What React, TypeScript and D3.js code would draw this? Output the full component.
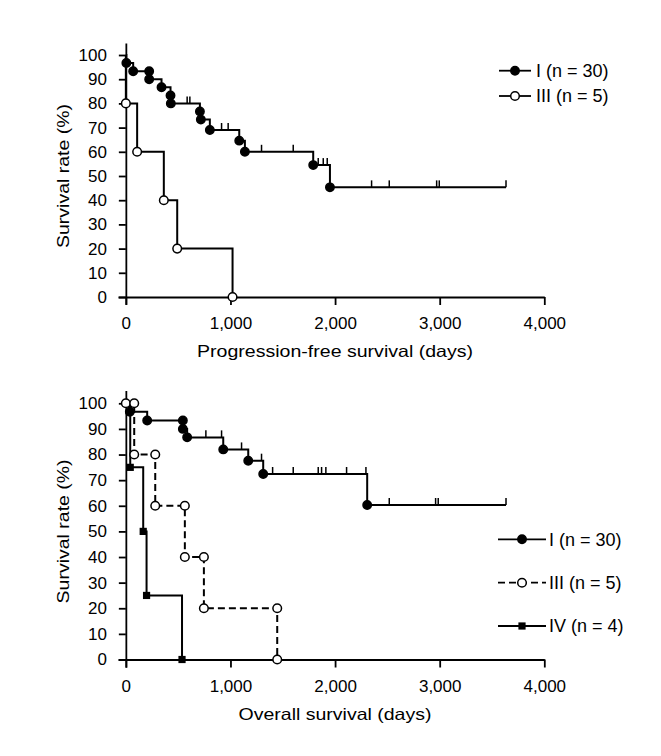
import React, { useEffect, useRef } from 'react';
import * as d3 from 'd3';

// axis ticks
const xTicks = [0, 1000, 2000, 3000, 4000];
const yTicks = [0, 10, 20, 30, 40, 50, 60, 70, 80, 90, 100];

// [day, survival %] at each marked event
const pfsStage1Marks: [number, number][] = [
  [5, 96.7], [70, 93.3], [223, 93.3], [223, 90], [341, 86.7], [427, 83.3], [430, 80],
  [708, 76.7], [717, 73.3], [803, 69], [1084, 64.6], [1138, 60], [1791, 54.5], [1951, 45.3],
];
const pfsStage1Censored = [586, 612, 915, 978, 1297, 1600, 1839, 1887, 1925, 2349, 2518, 2971, 2996, 3634];
const pfsStage1End = 3634;

const pfsStage3Marks: [number, number][] = [[0, 80], [108, 60], [363, 40], [491, 20], [1020, 0]];
const pfsStage3End = 1020;

const osStage1Marks: [number, number][] = [
  [38, 96.7], [204, 93.3], [545, 93.3], [545, 90], [586, 86.7], [931, 82], [1170, 77.6],
  [1313, 72.4], [2307, 60.3],
];
const osStage1Censored = [765, 915, 1106, 1297, 1403, 1600, 1839, 1871, 1912, 2110, 2295, 2518, 2961, 2986, 3634];
const osStage1End = 3634;

const osStage3Marks: [number, number][] = [
  [0, 100], [80, 100], [80, 80], [281, 80], [281, 60], [564, 60], [564, 40],
  [746, 40], [746, 20], [1447, 20], [1447, 0],
];
const osStage3End = 1447;

const osStage4Marks: [number, number][] = [[42, 75], [166, 50], [198, 25], [537, 0]];
const osStage4End = 537;

type Series = {
  marks: [number, number][];
  censored: number[];
  end: number;
  symbol: 'filled' | 'open' | 'square';
  dashed: boolean;
  label: string;
};

const pfsSeries: Series[] = [
  { marks: pfsStage1Marks, censored: pfsStage1Censored, end: pfsStage1End, symbol: 'filled', dashed: false, label: 'I (n = 30)' },
  { marks: pfsStage3Marks, censored: [], end: pfsStage3End, symbol: 'open', dashed: false, label: 'III (n = 5)' },
];
const osSeries: Series[] = [
  { marks: osStage1Marks, censored: osStage1Censored, end: osStage1End, symbol: 'filled', dashed: false, label: 'I (n = 30)' },
  { marks: osStage3Marks, censored: [], end: osStage3End, symbol: 'open', dashed: true, label: 'III (n = 5)' },
  { marks: osStage4Marks, censored: [], end: osStage4End, symbol: 'square', dashed: false, label: 'IV (n = 4)' },
];

const FONT = '"Liberation Sans", Arial, Helvetica, sans-serif';

export default function App() {
  const ref = useRef<SVGSVGElement | null>(null);

  useEffect(() => {
    if (!ref.current) return;
    const svg = d3.select(ref.current);
    svg.selectAll('*').remove();

    const drawMarker = (g: any, symbol: string, cx: number, cy: number) => {
      if (symbol === 'square') {
        g.append('rect').attr('x', cx - 3.6).attr('y', cy - 3.6).attr('width', 7.2).attr('height', 7.2).attr('fill', '#000');
      } else {
        g.append('circle').attr('cx', cx).attr('cy', cy).attr('r', symbol === 'open' ? 4.3 : 4.2)
          .attr('fill', symbol === 'open' ? '#fff' : '#000')
          .attr('stroke', '#000').attr('stroke-width', 1.5);
      }
    };

    const panel = (
      series: Series[], y0: number, y100: number, title: string, titleLen: number,
      legend: { x1: number; x2: number; rows: number[]; textX: number },
    ) => {
      const perUnit = (y0 - y100) / 100;
      const x = d3.scaleLinear().domain([-75, 4000]).range([118, 544.3]);
      const y = d3.scaleLinear().domain([-3, 105]).range([y0 + 3 * perUnit, y100 - 5 * perUnit]);
      const g = svg.append('g');

      // curves
      series.forEach(s => {
        const last = s.marks[s.marks.length - 1];
        const pts: [number, number][] = [[0, 100], ...s.marks, [s.end, last[1]]];
        const line = d3.line<[number, number]>().x(d => x(d[0])).y(d => y(d[1])).curve(d3.curveStepAfter);
        g.append('path').attr('d', line(pts)).attr('fill', 'none').attr('stroke', '#000')
          .attr('stroke-width', 2).attr('stroke-dasharray', s.dashed ? '7,4' : null);

        // censor ticks
        const bis = d3.bisector((d: [number, number]) => d[0]).right;
        s.censored.forEach(t => {
          const i = bis(s.marks, t);
          const v = i === 0 ? 100 : s.marks[i - 1][1];
          g.append('line').attr('x1', x(t)).attr('x2', x(t)).attr('y1', y(v)).attr('y2', y(v) - 7)
            .attr('stroke', '#000').attr('stroke-width', 1.5);
        });
      });

      // axes
      const yAxis = g.append('g').attr('transform', `translate(${x(0)},0)`)
        .call(d3.axisLeft(y).tickValues(yTicks).tickSize(7).tickSizeOuter(0).tickPadding(12));
      const xAxis = g.append('g').attr('transform', `translate(0,${y(0)})`)
        .call(d3.axisBottom(x).tickValues(xTicks).tickSize(8).tickSizeOuter(0).tickPadding(12)
          .tickFormat(d => d3.format(',')(d as number)));
      [yAxis, xAxis].forEach(a => {
        a.selectAll('path,line').attr('stroke', '#000').attr('stroke-width', 1.8);
        a.selectAll('text').attr('fill', '#000').style('font-family', FONT).style('font-size', '17px');
      });
      xAxis.selectAll('text').attr('dy', '0.71em');

      // markers on top
      series.forEach(s => {
        s.marks.forEach(([d, v]) => drawMarker(g, s.symbol, x(d), y(v)));
      });

      // axis titles
      g.append('text').attr('x', 335).attr('y', y(0) + 60).attr('text-anchor', 'middle')
        .attr('textLength', titleLen).attr('lengthAdjust', 'spacingAndGlyphs')
        .style('font-family', FONT).style('font-size', '16.5px').text(title);
      g.append('text').attr('transform', `translate(69,${(y0 + y100) / 2}) rotate(-90)`)
        .attr('text-anchor', 'middle').attr('textLength', 144).attr('lengthAdjust', 'spacingAndGlyphs')
        .style('font-family', FONT).style('font-size', '16.5px').text('Survival rate (%)');

      // legend
      series.forEach((s, i) => {
        const ry = legend.rows[i];
        g.append('line').attr('x1', legend.x1).attr('x2', legend.x2).attr('y1', ry).attr('y2', ry)
          .attr('stroke', '#000').attr('stroke-width', 1.8).attr('stroke-dasharray', s.dashed ? '7,4' : null);
        drawMarker(g, s.symbol, (legend.x1 + legend.x2) / 2, ry);
        g.append('text').attr('x', legend.textX).attr('y', ry).attr('dy', '0.36em')
          .style('font-family', FONT).style('font-size', '18px').text(s.label);
      });
    };

    panel(pfsSeries, 297, 55, 'Progression-free survival (days)', 276,
      { x1: 499, x2: 531, rows: [70.7, 96], textX: 536 });
    panel(osSeries, 659.5, 403.3, 'Overall survival (days)', 193,
      { x1: 498, x2: 546, rows: [539.3, 582.7, 626], textX: 549 });
  }, []);

  return (
    <svg ref={ref} width={661} height={756}
      style={{ position: 'absolute', left: 0, top: 0, background: '#fff' }} />
  );
}
